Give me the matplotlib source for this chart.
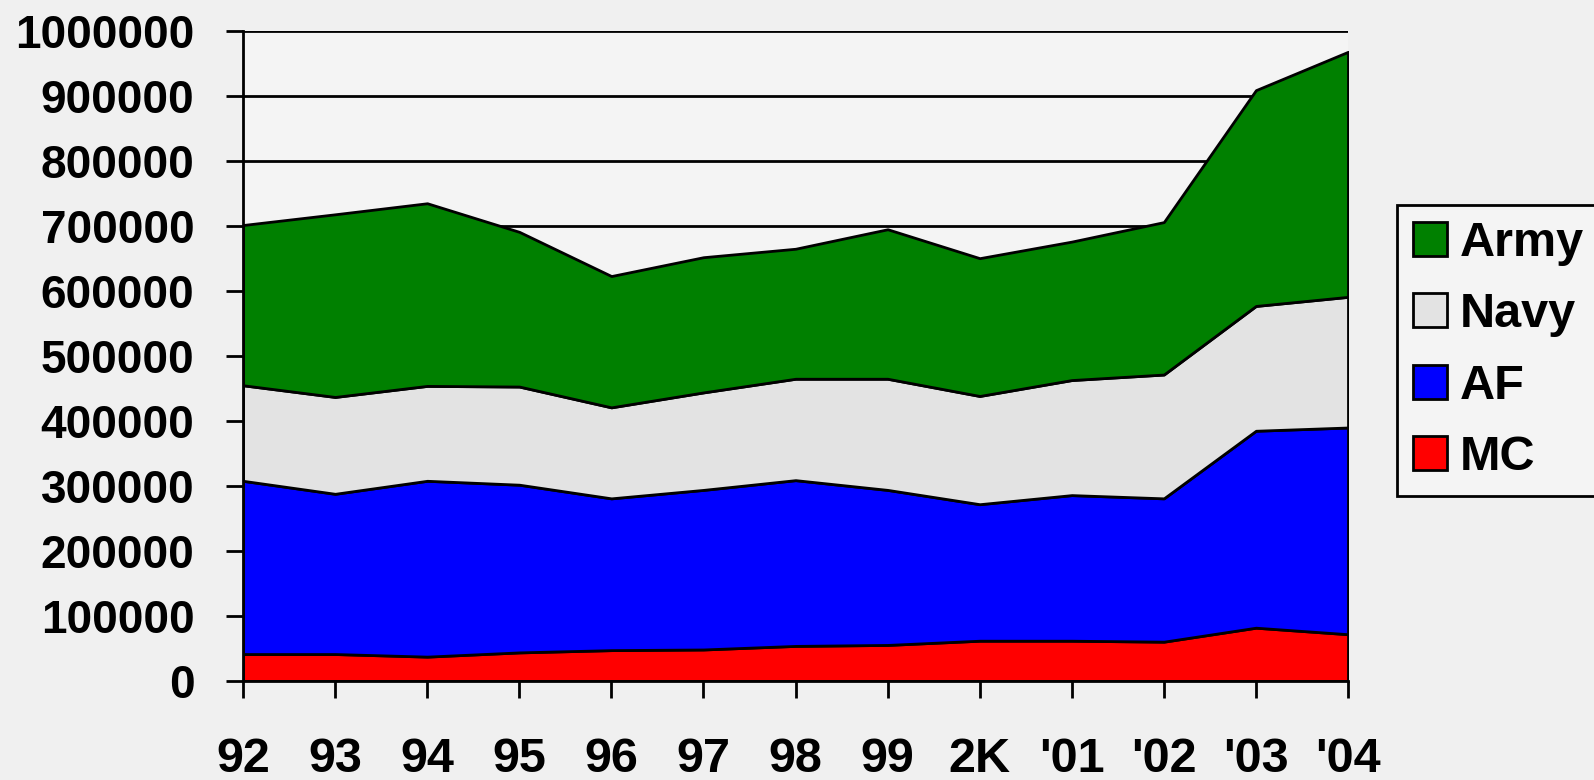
import matplotlib
matplotlib.use("Agg")
import matplotlib.pyplot as plt
import matplotlib.ticker as ticker
from matplotlib.patches import Patch

# years on the x axis
years = ["92", "93", "94", "95", "96", "97", "98", "99", "2K", "'01", "'02", "'03", "'04"]

# personnel per service (stacked bottom to top: MC, AF, Navy, Army)
mc = [41500, 41500, 37500, 44000, 47500, 48500, 54000, 55500, 62000, 62000, 60500, 82000, 72000]
af = [266500, 246500, 270500, 258000, 233500, 245500, 255000, 238500, 210000, 224000, 220500, 303000, 318000]
navy = [147000, 149000, 146000, 151000, 140000, 150000, 156000, 171000, 166500, 177000, 190500, 192000, 201000]
army = [246500, 281000, 281000, 238000, 202000, 208000, 200000, 230000, 212000, 213000, 234500, 332000, 377000]

series_names = ["MC", "AF", "Navy", "Army"]
colors = ["#ff0000", "#0000ff", "#e3e3e3", "#008000"]


def main():
    plt.rcParams["font.family"] = ["Liberation Sans", "DejaVu Sans"]
    plt.rcParams["font.weight"] = "bold"

    lw = 2.0

    fig = plt.figure(figsize=(15.94, 7.80), dpi=100, facecolor="#f0f0f0")
    ax = fig.add_axes([243 / 1594, 1 - 681 / 780, (1348 - 243) / 1594, (681 - 31) / 780])
    ax.set_facecolor("#f4f4f4")

    x = list(range(len(years)))
    ax.stackplot(
        x, mc, af, navy, army,
        colors=colors,
        edgecolor="black",
        linewidth=lw,
        zorder=3,
    )

    ax.set_xlim(0, len(years) - 1)
    ax.set_ylim(0, 1_000_000)
    ax.yaxis.set_major_locator(ticker.MultipleLocator(100000))
    ax.yaxis.set_major_formatter(ticker.FuncFormatter(lambda v, pos: f"{int(v)}"))
    ax.set_xticks(x)
    ax.set_xticklabels(years)

    ax.grid(axis="y", color="black", linewidth=lw, zorder=1)
    ax.set_axisbelow(True)

    for side in ["top", "right"]:
        ax.spines[side].set_visible(False)
    for side in ["left", "bottom"]:
        ax.spines[side].set_linewidth(lw)
        ax.spines[side].set_zorder(4)

    ax.tick_params(axis="y", length=12, width=lw, pad=23, labelsize=33)
    ax.tick_params(axis="x", length=12, width=lw, pad=28, labelsize=35)
    for lbl in ax.get_xticklabels() + ax.get_yticklabels():
        lbl.set_fontweight("bold")

    handles = [
        Patch(facecolor=colors[i], edgecolor="black", linewidth=lw, label=series_names[i])
        for i in [3, 2, 1, 0]
    ]
    leg = fig.legend(
        handles=handles,
        loc="upper left",
        bbox_to_anchor=(1397 / 1594, 1 - 205 / 780),
        frameon=True,
        fancybox=False,
        edgecolor="black",
        facecolor="#f4f4f4",
        handlelength=0.7,
        handleheight=0.7,
        handletextpad=0.27,
        labelspacing=0.54,
        borderpad=0.33,
        borderaxespad=0,
        prop={"weight": "bold", "size": 35},
    )
    leg.get_frame().set_linewidth(lw)
    leg.get_frame().set_alpha(None)

    fig.savefig("out.png", dpi=100, facecolor=fig.get_facecolor())


if __name__ == '__main__':
    main()
